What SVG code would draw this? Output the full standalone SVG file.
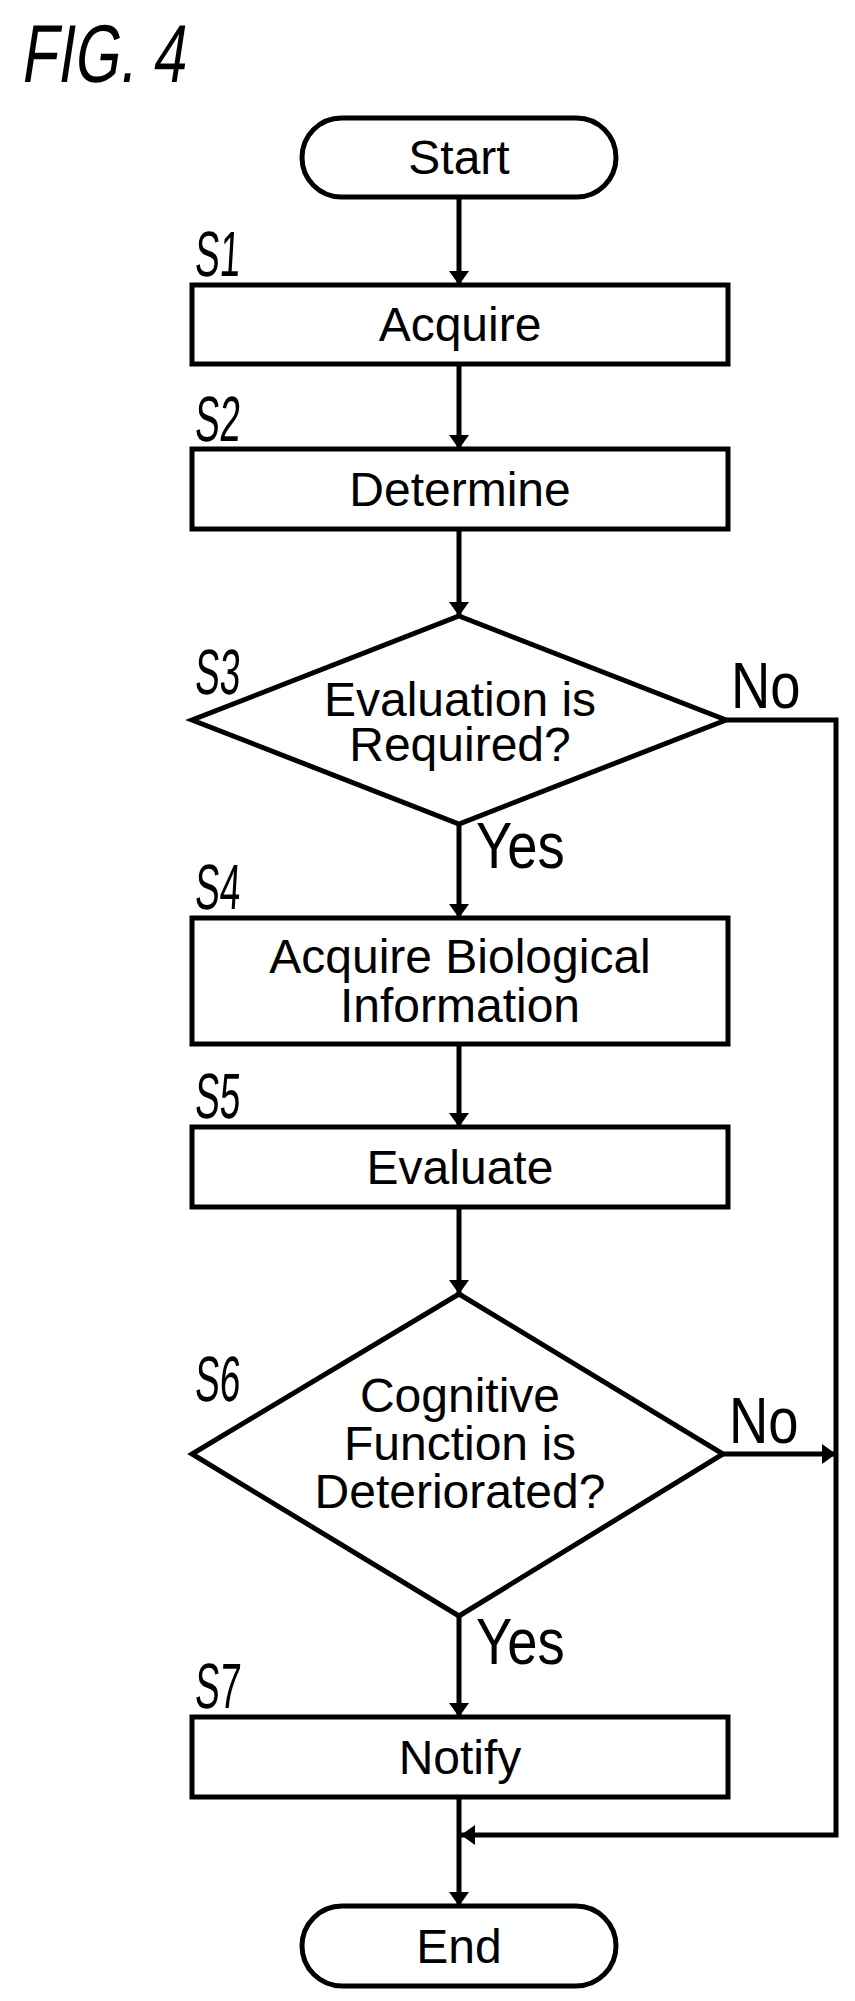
<svg xmlns="http://www.w3.org/2000/svg" width="855" height="2001" viewBox="0 0 855 2001">
<defs>
<style>
.s{fill:#fff;stroke:#000;stroke-width:5}
.c{fill:none;stroke:#000;stroke-width:5}
.t{font-family:"Liberation Sans",Arial,sans-serif;font-size:48px;text-anchor:middle}
.d{font-family:"Liberation Sans",Arial,sans-serif;font-size:42px;text-anchor:middle}
.l{font-family:"Liberation Sans",Arial,sans-serif;font-size:64px}
</style>
<marker id="a" viewBox="0 0 14 20" refX="14" refY="10" markerWidth="14" markerHeight="20" orient="auto" markerUnits="userSpaceOnUse"><path d="M0,0 L14,10 L0,20 Z"/></marker>
</defs>
<rect width="855" height="2001" fill="#fff"/>
<text transform="translate(20,82) scale(0.72,1) skewX(-12)" font-family="Liberation Sans,Arial,sans-serif" font-size="82">FIG. 4</text>
<g id="connectors">
<path class="c" d="M459,197 V285" marker-end="url(#a)"/>
<path class="c" d="M459,364 V449" marker-end="url(#a)"/>
<path class="c" d="M459,529 V616" marker-end="url(#a)"/>
<path class="c" d="M459,824 V918" marker-end="url(#a)"/>
<path class="c" d="M459,1044 V1127" marker-end="url(#a)"/>
<path class="c" d="M459,1207 V1294" marker-end="url(#a)"/>
<path class="c" d="M459,1616 V1717" marker-end="url(#a)"/>
<path class="c" d="M459,1797 V1906" marker-end="url(#a)"/>
<path class="c" d="M726,720 H836 V1835 H461" marker-end="url(#a)"/>
<path class="c" d="M723,1454 H836" marker-end="url(#a)"/>
<text class="l" font-size="44" transform="translate(731,708) scale(0.85,1)">No</text>
<text class="l" font-size="44" transform="translate(729,1443) scale(0.85,1)">No</text>
<text class="l" font-size="44" transform="translate(476,868) scale(0.85,1)">Yes</text>
<text class="l" font-size="44" transform="translate(476,1664) scale(0.85,1)">Yes</text>
</g>
<g id="start"><rect class="s" x="302" y="118" width="314" height="79" rx="39.5"/><text class="t" x="459" y="174">Start</text></g>
<g id="s1"><rect class="s" x="192" y="285" width="536" height="79"/><text class="t" x="460" y="341">Acquire</text><text class="l" transform="translate(194,276) scale(0.58,1) skewX(-6)">S1</text></g>
<g id="s2"><rect class="s" x="192" y="449" width="536" height="80"/><text class="t" x="460" y="506">Determine</text><text class="l" transform="translate(194,441) scale(0.58,1) skewX(-6)">S2</text></g>
<g id="s3"><polygon class="s" points="459,616 726,720 459,824 192,720"/><text class="t" x="460" y="716">Evaluation is</text><text class="t" x="460" y="761">Required?</text><text class="l" transform="translate(194,694) scale(0.58,1) skewX(-6)">S3</text></g>
<g id="s4"><rect class="s" x="192" y="918" width="536" height="126"/><text class="t" x="460" y="973">Acquire Biological</text><text class="t" x="460" y="1022">Information</text><text class="l" transform="translate(194,909) scale(0.58,1) skewX(-6)">S4</text></g>
<g id="s5"><rect class="s" x="192" y="1127" width="536" height="80"/><text class="t" x="460" y="1184">Evaluate</text><text class="l" transform="translate(194,1118) scale(0.58,1) skewX(-6)">S5</text></g>
<g id="s6"><polygon class="s" points="459,1294 723,1454 459,1616 192,1454"/><text class="t" x="460" y="1412">Cognitive</text><text class="t" x="460" y="1460">Function is</text><text class="t" x="460" y="1508">Deteriorated?</text><text class="l" transform="translate(194,1401) scale(0.58,1) skewX(-6)">S6</text></g>
<g id="s7"><rect class="s" x="192" y="1717" width="536" height="80"/><text class="t" x="460" y="1774">Notify</text><text class="l" transform="translate(194,1708) scale(0.58,1) skewX(-6)">S7</text></g>
<g id="end"><rect class="s" x="302" y="1906" width="314" height="80" rx="40"/><text class="t" x="459" y="1963">End</text></g>
</svg>
